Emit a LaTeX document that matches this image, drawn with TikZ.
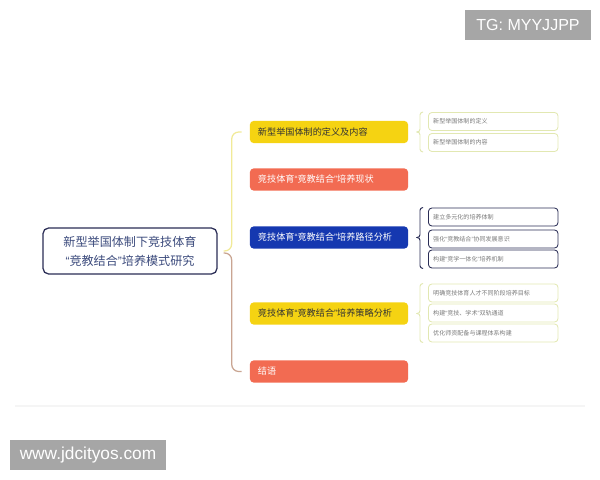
\documentclass[tikz,border=0pt]{standalone}
\usepackage{fontspec}
\setmainfont{Liberation Sans}
\newfontfamily\cjk{Noto Sans CJK SC}
\usetikzlibrary{calc}

\definecolor{rootline}{HTML}{2A2D55}
\definecolor{roottext}{HTML}{3B4A7C}
\definecolor{sunyellow}{HTML}{F5D312}
\definecolor{coral}{HTML}{F26B52}
\definecolor{deepblue}{HTML}{1538B0}
\definecolor{paleline}{HTML}{E2E8B2}
\definecolor{leafgray}{HTML}{7A7A7A}
\definecolor{markgray}{HTML}{A6A6A6}
\definecolor{braceup}{HTML}{F1EA98}
\definecolor{bracedown}{HTML}{C9A592}

% narrow quotes taken from the Latin font
\newcommand{\qopen}{{\rmfamily “}}
\newcommand{\qclose}{{\rmfamily ”}}

\tikzset{
  root/.style={draw=rootline, line width=0.9pt, rounded corners=4pt, fill=white,
    minimum width=4.35cm, minimum height=1.15cm, align=center, text=roottext,
    font=\cjk\fontsize{8.6}{13.4}\selectfont},
  branch/.style={rounded corners=2.5pt, minimum height=0.55cm, inner xsep=0.2cm,
    text width=3.55cm, align=left, font=\cjk\fontsize{6.5}{7}\selectfont},
  leaf/.style={draw=paleline, line width=0.6pt, rounded corners=2.5pt, anchor=west,
    minimum height=0.45cm, inner xsep=0.12cm, text width=3cm, align=left,
    text=leafgray, font=\cjk\fontsize{4.3}{5}\selectfont},
  watermark/.style={fill=markgray, text=white, inner sep=0pt},
  curly/.style={line width=0.7pt, rounded corners=2pt}
}

\newcommand{\drawleaf}[4]{ % name, y, line colour, text
  \node[leaf, draw=#3] (#1) at (428, #2) {#4};
}
\newcommand{\drawcurly}[4]{ % branch, first leaf, last leaf, colour
  \coordinate (#1tip) at ($(#1.east)+(8,0)$);
  \draw[curly, #4] (#1tip) -| ($(#2.north west)+(-8,0)$) -- ($(#2.north west)+(-5,0)$);
  \draw[curly, #4] (#1tip) -| ($(#3.south west)+(-8,0)$) -- ($(#3.south west)+(-5,0)$);
}

\begin{document}
\begin{tikzpicture}[x=0.025cm, y=-0.025cm]
\useasboundingbox (0,0) rectangle (600,480);

% watermarks
\node[watermark, minimum width=3.15cm, minimum height=0.75cm, font=\fontsize{11.4}{13}\selectfont] (tg) at (528,25) {TG: MYYJJPP};
\node[watermark, minimum width=3.9cm, minimum height=0.75cm, font=\fontsize{12.3}{14}\selectfont] (site) at (88,455) {www.jdcityos.com};
\draw[black!4, line width=1pt] (15,406) -- (585,406);

% root and branches
\node[root] (root) at (130,251) {新型举国体制下竞技体育\\\qopen 竞教结合\qclose 培养模式研究};

\node[branch, fill=sunyellow, text=black!80] (b1) at (329,132) {新型举国体制的定义及内容};
\node[branch, fill=coral, text=white] (b2) at (329,179.5) {竞技体育\qopen 竞教结合\qclose 培养现状};
\node[branch, fill=deepblue, text=white] (b3) at (329,237.5) {竞技体育\qopen 竞教结合\qclose 培养路径分析};
\node[branch, fill=sunyellow, text=black!80] (b4) at (329,313.5) {竞技体育\qopen 竞教结合\qclose 培养策略分析};
\node[branch, fill=coral, text=white] (b5) at (329,371.5) {结语};

\coordinate (tip) at ($(root.east)+(6,0)$);
\draw[braceup, line width=0.9pt, rounded corners=5pt] (tip) -| ($(b1.west)+(-18,0)$) -- ($(b1.west)+(-8,0)$);
\draw[bracedown, line width=0.9pt, rounded corners=5pt] ($(tip)+(0,2)$) -| ($(b5.west)+(-18,0)$) -- ($(b5.west)+(-8,0)$);

% leaves
\drawleaf{l11}{121.5}{paleline}{新型举国体制的定义}
\drawleaf{l12}{142.5}{paleline}{新型举国体制的内容}
\drawcurly{b1}{l11}{l12}{paleline}

\drawleaf{l31}{217}{rootline}{建立多元化的培养体制}
\drawleaf{l32}{239}{rootline}{强化\qopen 竞教结合\qclose 协同发展意识}
\drawleaf{l33}{259}{rootline}{构建\qopen 竞学一体化\qclose 培养机制}
\drawcurly{b3}{l31}{l33}{rootline}

\drawleaf{l41}{293}{paleline}{明确竞技体育人才不同阶段培养目标}
\drawleaf{l42}{313}{paleline}{构建\qopen 竞技、学术\qclose 双轨通道}
\drawleaf{l43}{333}{paleline}{优化师资配备与课程体系构建}
\drawcurly{b4}{l41}{l43}{paleline}
\end{tikzpicture}
\end{document}
